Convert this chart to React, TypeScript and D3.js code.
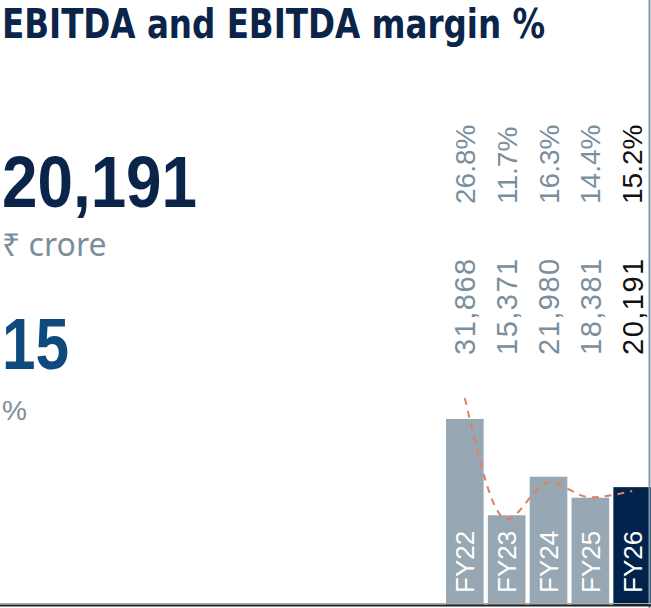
import React, { useEffect, useRef } from 'react';
import * as d3 from 'd3';

// chart data
const years = ['FY22', 'FY23', 'FY24', 'FY25', 'FY26'];
const ebitda = [31868, 15371, 21980, 18381, 20191];
const margin = [26.8, 11.7, 16.3, 14.4, 15.2];
const ebitdaLabels = ['31,868', '15,371', '21,980', '18,381', '20,191'];
const marginLabels = ['26.8%', '11.7%', '16.3%', '14.4%', '15.2%'];

const App: React.FC = () => {
  const ref = useRef<SVGSVGElement | null>(null);

  useEffect(() => {
    if (!ref.current) return;
    document.body.style.margin = '0';
    const W = 651;
    const H = 608;
    const svg = d3.select(ref.current).attr('width', W).attr('height', H);
    svg.selectAll('*').remove();

    const navy = '#0b2449';
    const grey = '#7a8e9c';
    const sans = '"Liberation Sans", Arial, sans-serif';
    const narrow = '"Liberation Sans Narrow", "DejaVu Sans Condensed", Arial, sans-serif';

    // headline texts
    svg.append('text')
      .attr('x', 2).attr('y', 38)
      .attr('textLength', 543).attr('lengthAdjust', 'spacingAndGlyphs')
      .style('font-family', narrow).style('font-weight', 700).style('font-size', '41px')
      .style('fill', navy)
      .text('EBITDA and EBITDA margin %');

    svg.append('text')
      .attr('x', 2).attr('y', 207)
      .attr('textLength', 195).attr('lengthAdjust', 'spacingAndGlyphs')
      .style('font-family', sans).style('font-weight', 700).style('font-size', '72px')
      .style('fill', navy)
      .text('20,191');

    svg.append('text')
      .attr('x', 2).attr('y', 256)
      .style('font-family', '"Noto Sans", Roboto, sans-serif').style('font-size', '32px')
      .style('fill', grey)
      .text('₹ crore');

    svg.append('text')
      .attr('x', 2).attr('y', 369)
      .attr('textLength', 67).attr('lengthAdjust', 'spacingAndGlyphs')
      .style('font-family', sans).style('font-weight', 700).style('font-size', '72px')
      .style('fill', '#0e4a7e')
      .text('15');

    svg.append('text')
      .attr('x', 2).attr('y', 420)
      .style('font-family', sans).style('font-size', '28px')
      .style('fill', grey)
      .text('%');

    // scales
    const x = d3.scaleBand<string>().domain(years).range([446, 651]).paddingInner(0.1).paddingOuter(0);
    const y = d3.scaleLinear().domain([0, 32000]).range([605, 418.2]);
    const ym = d3.scaleLinear().domain([0, 30]).range([612.7, 372.4]);
    const cx = (d: string) => (x(d) || 0) + x.bandwidth() / 2;

    // bars
    svg.selectAll('.bar')
      .data(years)
      .enter().append('rect')
      .attr('class', 'bar')
      .attr('x', (d) => x(d) || 0)
      .attr('y', (d, i) => y(ebitda[i]))
      .attr('width', x.bandwidth())
      .attr('height', (d, i) => y(0) - y(ebitda[i]))
      .attr('fill', (d, i) => (i === years.length - 1 ? '#02234b' : '#97a8b4'));

    // year labels inside bars
    svg.selectAll('.yr')
      .data(years)
      .enter().append('text')
      .attr('class', 'yr')
      .attr('transform', (d) => `translate(${cx(d)},593) rotate(-90)`)
      .attr('dy', '0.36em')
      .style('font-family', sans).style('font-size', '26px')
      .style('fill', '#fff')
      .text((d) => d);

    // value labels
    svg.selectAll('.val')
      .data(years)
      .enter().append('text')
      .attr('class', 'val')
      .attr('transform', (d) => `translate(${cx(d)},355) rotate(-90)`)
      .attr('dy', '0.36em')
      .style('font-family', sans).style('font-size', '29px')
      .style('letter-spacing', '1.5px')
      .style('fill', (d, i) => (i === years.length - 1 ? '#111' : grey))
      .text((d, i) => ebitdaLabels[i]);

    svg.selectAll('.pct')
      .data(years)
      .enter().append('text')
      .attr('class', 'pct')
      .attr('transform', (d) => `translate(${cx(d)},204) rotate(-90)`)
      .attr('dy', '0.36em')
      .style('font-family', sans).style('font-size', '28px')
      .style('fill', (d, i) => (i === years.length - 1 ? '#111' : grey))
      .text((d, i) => marginLabels[i]);

    // margin line
    const line = d3.line<number>()
      .x((d, i) => cx(years[i]))
      .y((d) => ym(d))
      .curve(d3.curveMonotoneX);

    svg.append('path')
      .datum(margin)
      .attr('d', line)
      .attr('fill', 'none')
      .attr('stroke', '#e0805f')
      .attr('stroke-width', 2)
      .attr('stroke-dasharray', '7,6');

    // frame lines
    svg.append('line')
      .attr('x1', 649.5).attr('x2', 649.5).attr('y1', 0).attr('y2', H)
      .attr('stroke', '#8095a6').attr('stroke-width', 2);

    svg.append('line')
      .attr('x1', 0).attr('x2', W).attr('y1', 603.5).attr('y2', 603.5)
      .attr('stroke', '#aaa').attr('stroke-width', 1);
    svg.append('line')
      .attr('x1', 0).attr('x2', W).attr('y1', 605.5).attr('y2', 605.5)
      .attr('stroke', '#222').attr('stroke-width', 2);
  }, []);

  return <svg ref={ref} style={{ display: 'block' }}></svg>;
};

export default App;
